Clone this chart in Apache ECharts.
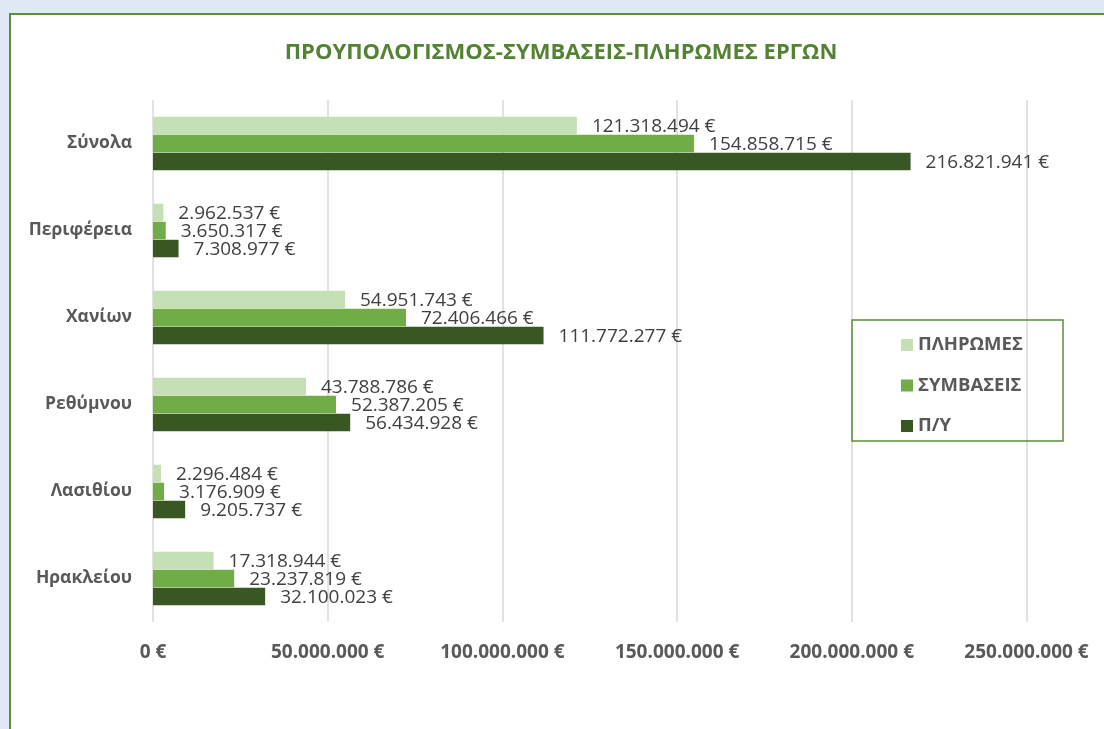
<!DOCTYPE html>
<html>
<head>
<meta charset="utf-8">
<script src="https://cdn.jsdelivr.net/npm/echarts@6/dist/echarts.min.js"></script>
<style>
html,body{margin:0;padding:0;background:#dee9f5;}
#c{width:1104px;height:729px;}
</style>
</head>
<body>
<div id="c"></div>
<script>
var categories = ['Ηρακλείου', 'Λασιθίου', 'Ρεθύμνου', 'Χανίων', 'Περιφέρεια', 'Σύνολα'];
var payments = [17318944, 2296484, 43788786, 54951743, 2962537, 121318494];
var contracts = [23237819, 3176909, 52387205, 72406466, 3650317, 154858715];
var budget = [32100023, 9205737, 56434928, 111772277, 7308977, 216821941];
var seriesNames = ['ΠΛΗΡΩΜΕΣ', 'ΣΥΜΒΑΣΕΙΣ', 'Π/Υ'];
var colors = ['#c5e0b4', '#70ad47', '#385723'];
var xTicks = { min: 0, max: 250000000, interval: 50000000 };

function fmt(v) {
  return String(Math.round(v)).replace(/\B(?=(\d{3})+(?!\d))/g, '.') + ' €';
}

var FONT = '"Open Sans", "Noto Sans", sans-serif';
var chart = echarts.init(document.getElementById('c'));

function mkSeries(name, data, color) {
  return {
    name: name,
    type: 'bar',
    data: data,
    barWidth: 17.5,
    barGap: '3%',
    itemStyle: { color: color },
    label: {
      show: true,
      position: 'right',
      distance: 15,
      offset: [0, 1.5],
      formatter: function (p) { return fmt(p.value); },
      color: '#404040',
      fontFamily: FONT,
      fontSize: 19
    }
  };
}

chart.setOption({
  backgroundColor: '#dee9f5',
  animation: false,
  graphic: [{
    type: 'rect',
    z: -10,
    shape: { x: 10, y: 14, width: 1110, height: 730 },
    style: { fill: '#ffffff', stroke: '#5b8f3a', lineWidth: 2 }
  }, {
    type: 'rect',
    z: 10,
    shape: { x: 852, y: 320, width: 211, height: 121 },
    style: { fill: 'rgba(0,0,0,0)', stroke: '#5b8f3a', lineWidth: 1.5 }
  }],
  title: {
    text: 'ΠΡΟΥΠΟΛΟΓΙΣΜΟΣ-ΣΥΜΒΑΣΕΙΣ-ΠΛΗΡΩΜΕΣ ΕΡΓΩΝ',
    left: 556,
    textAlign: 'center',
    top: 37,
    textStyle: { color: '#548235', fontFamily: FONT, fontWeight: 'bold', fontSize: 22 }
  },
  legend: {
    orient: 'vertical',
    left: 896,
    top: 330,
    itemWidth: 12,
    itemHeight: 12,
    itemGap: 20.5,
    icon: 'rect',
    data: seriesNames,
    textStyle: { color: '#595959', fontFamily: FONT, fontWeight: 'bold', fontSize: 18.5, lineHeight: 20 }
  },
  grid: { left: 153, right: 77.5, top: 100, bottom: 107 },
  xAxis: {
    type: 'value',
    min: xTicks.min,
    max: xTicks.max,
    interval: xTicks.interval,
    axisLine: { show: false },
    axisTick: { show: false },
    splitLine: { lineStyle: { color: '#d9d9d9', width: 1.5 } },
    axisLabel: {
      formatter: function (v) { return fmt(v); },
      color: '#595959',
      fontFamily: FONT,
      fontWeight: 'bold',
      fontSize: 19,
      margin: 21
    }
  },
  yAxis: {
    type: 'category',
    data: categories,
    axisLine: { show: false },
    axisTick: { show: false },
    axisLabel: {
      color: '#595959',
      fontFamily: FONT,
      fontWeight: 'bold',
      fontSize: 17.5,
      margin: 21
    }
  },
  series: [
    mkSeries(seriesNames[0], payments, colors[0]),
    mkSeries(seriesNames[1], contracts, colors[1]),
    mkSeries(seriesNames[2], budget, colors[2])
  ]
});
</script>
</body>
</html>
